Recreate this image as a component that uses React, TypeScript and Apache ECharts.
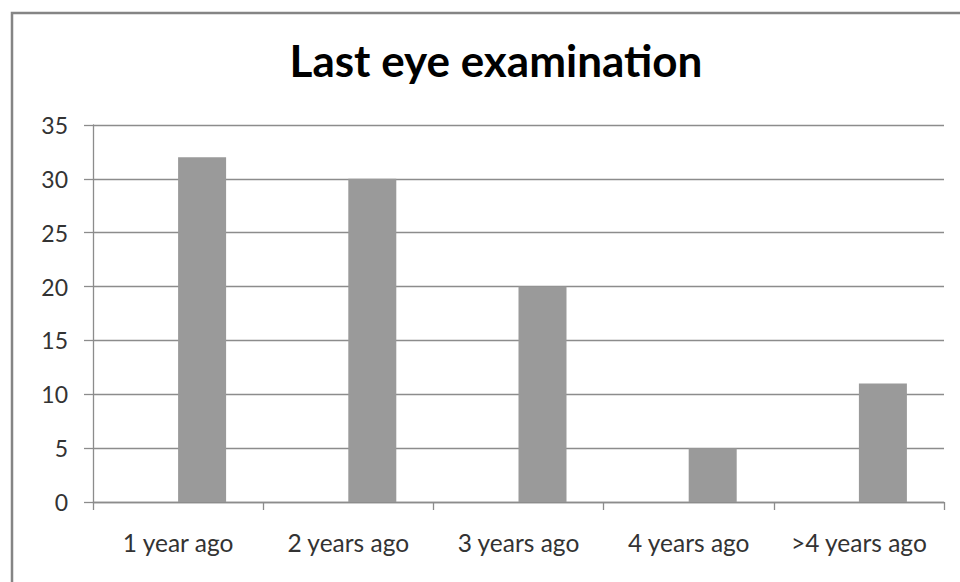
import React, { useEffect, useRef } from "react";
import * as echarts from "echarts";

const categories = ["1 year ago", "2 years ago", "3 years ago", "4 years ago", ">4 years ago"];
const emptySeries = [null, null, null, null, null];
const values = [32, 30, 20, 5, 11];
const yTicks = { min: 0, max: 35, interval: 5 };

export default function App() {
  const ref = useRef<HTMLDivElement>(null);
  useEffect(() => {
    if (!ref.current) return;
    const chart = echarts.init(ref.current, null, { renderer: "svg" });
    const font = "Lato";
    chart.setOption({
      animation: false,
      backgroundColor: "#ffffff",
      title: {
        text: "Last eye examination",
        left: 491,
        top: 33,
        textAlign: "center",
        textStyle: { fontFamily: font, fontWeight: "bold", fontSize: 44, color: "#000000" },
      },
      graphic: [
        {
          type: "rect",
          shape: { x: 12, y: 13, width: 960, height: 600 },
          style: { fill: "none", stroke: "#858585", lineWidth: 2.5 },
          silent: true,
        },
      ],
      grid: { left: 93, top: 125, width: 851, height: 377, containLabel: false },
      xAxis: {
        type: "category",
        data: categories,
        boundaryGap: true,
        axisLine: { show: true, lineStyle: { color: "#8c8c8c", width: 1.3 } },
        axisTick: { show: true, length: 8, alignWithLabel: false, lineStyle: { color: "#8c8c8c", width: 1.3 } },
        axisLabel: { margin: 28, fontFamily: font, fontSize: 24.5, color: "#333333", interval: 0 },
        splitLine: { show: false },
      },
      yAxis: {
        type: "value",
        min: yTicks.min,
        max: yTicks.max,
        interval: yTicks.interval,
        axisLine: { show: true, lineStyle: { color: "#8c8c8c", width: 1.3 } },
        axisTick: { show: true, length: 9, lineStyle: { color: "#8c8c8c", width: 1.3 } },
        axisLabel: { margin: 25, fontFamily: font, fontSize: 23, color: "#333333" },
        splitLine: { show: true, lineStyle: { color: "#8c8c8c", width: 1.3 } },
      },
      series: [
        {
          type: "bar",
          data: emptySeries,
          barWidth: 48,
          barGap: "0%",
          itemStyle: { color: "#9a9a9a" },
        },
        {
          type: "bar",
          data: values,
          barWidth: 48,
          barGap: "0%",
          itemStyle: { color: "#9a9a9a" },
        },
      ],
    });
    return () => chart.dispose();
  }, []);
  return (
    <div
      ref={ref}
      style={{ position: "fixed", left: 0, top: 0, width: 960, height: 582, background: "#fff" }}
    />
  );
}
